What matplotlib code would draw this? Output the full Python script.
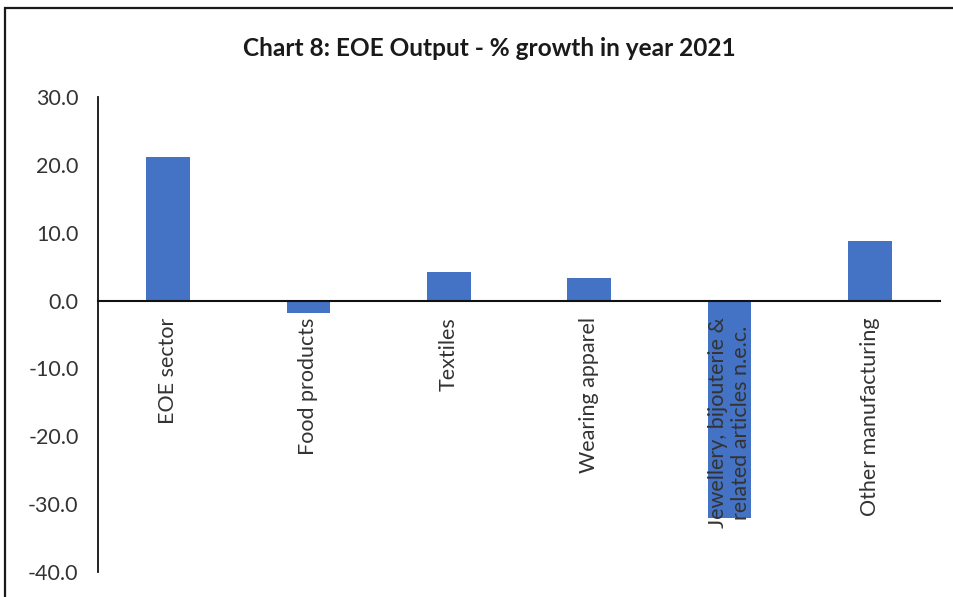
import matplotlib
matplotlib.use("Agg")
import matplotlib.pyplot as plt
from matplotlib.patches import Rectangle
from matplotlib.transforms import blended_transform_factory, offset_copy

categories = [
    "EOE sector",
    "Food products",
    "Textiles",
    "Wearing apparel",
    "Jewellery, bijouterie &\nrelated articles n.e.c.",
    "Other manufacturing",
]
growth = [21.2, -1.9, 4.2, 3.4, -32.0, 8.8]
y_ticks = [-40, -30, -20, -10, 0, 10, 20, 30]

W, H = 954, 597
fig = plt.figure(figsize=(W / 100, H / 100), dpi=100)
plt.rcParams["font.family"] = ["Lato", "DejaVu Sans"]

# chart frame (runs off the right and bottom edges)
fig.add_artist(Rectangle((5 / W, -0.05), 1.2, 1 - 8 / H + 0.05,
                         transform=fig.transFigure, fill=False,
                         edgecolor="#1a1a1a", linewidth=1.6))

ax = fig.add_axes([98 / W, 1 - 572 / H, (940 - 98) / W, (572 - 97) / H])

for s in ("top", "right"):
    ax.spines[s].set_visible(False)
ax.spines["bottom"].set_position(("data", 0))
ax.spines["bottom"].set_zorder(3)
ax.spines["bottom"].set_linewidth(1.5)
ax.spines["left"].set_linewidth(1.3)
ax.spines["bottom"].set_color("#111111")
ax.spines["left"].set_color("#111111")

x = list(range(len(categories)))
ax.bar(x, growth, width=0.31, color="#4472C4", zorder=2)

ax.set_xlim(-0.5, len(categories) - 0.5)
ax.set_ylim(-40, 30)
ax.set_yticks(y_ticks)
ax.set_yticklabels([f"{v:.1f}" for v in y_ticks], fontsize=15.5, color="#333333")
ax.tick_params(axis="y", length=0, pad=14)

# category names hang below the zero line and sit on top of the bars
ax.set_xticks([])
label_tr = offset_copy(ax.transData, fig=fig, x=0, y=-12, units="points")
for xi, name in zip(x, categories):
    ax.text(xi, 0, name, transform=label_tr, rotation=90, fontsize=15.5,
            color="#333333", ha="center", va="top", multialignment="center",
            zorder=5, clip_on=False)

fig.text(489 / W, 1 - 48 / H, "Chart 8: EOE Output - % growth in year 2021",
         ha="center", va="center", fontsize=17.6, fontweight="bold", color="#1a1a1a")

fig.savefig("out.png", dpi=100)
